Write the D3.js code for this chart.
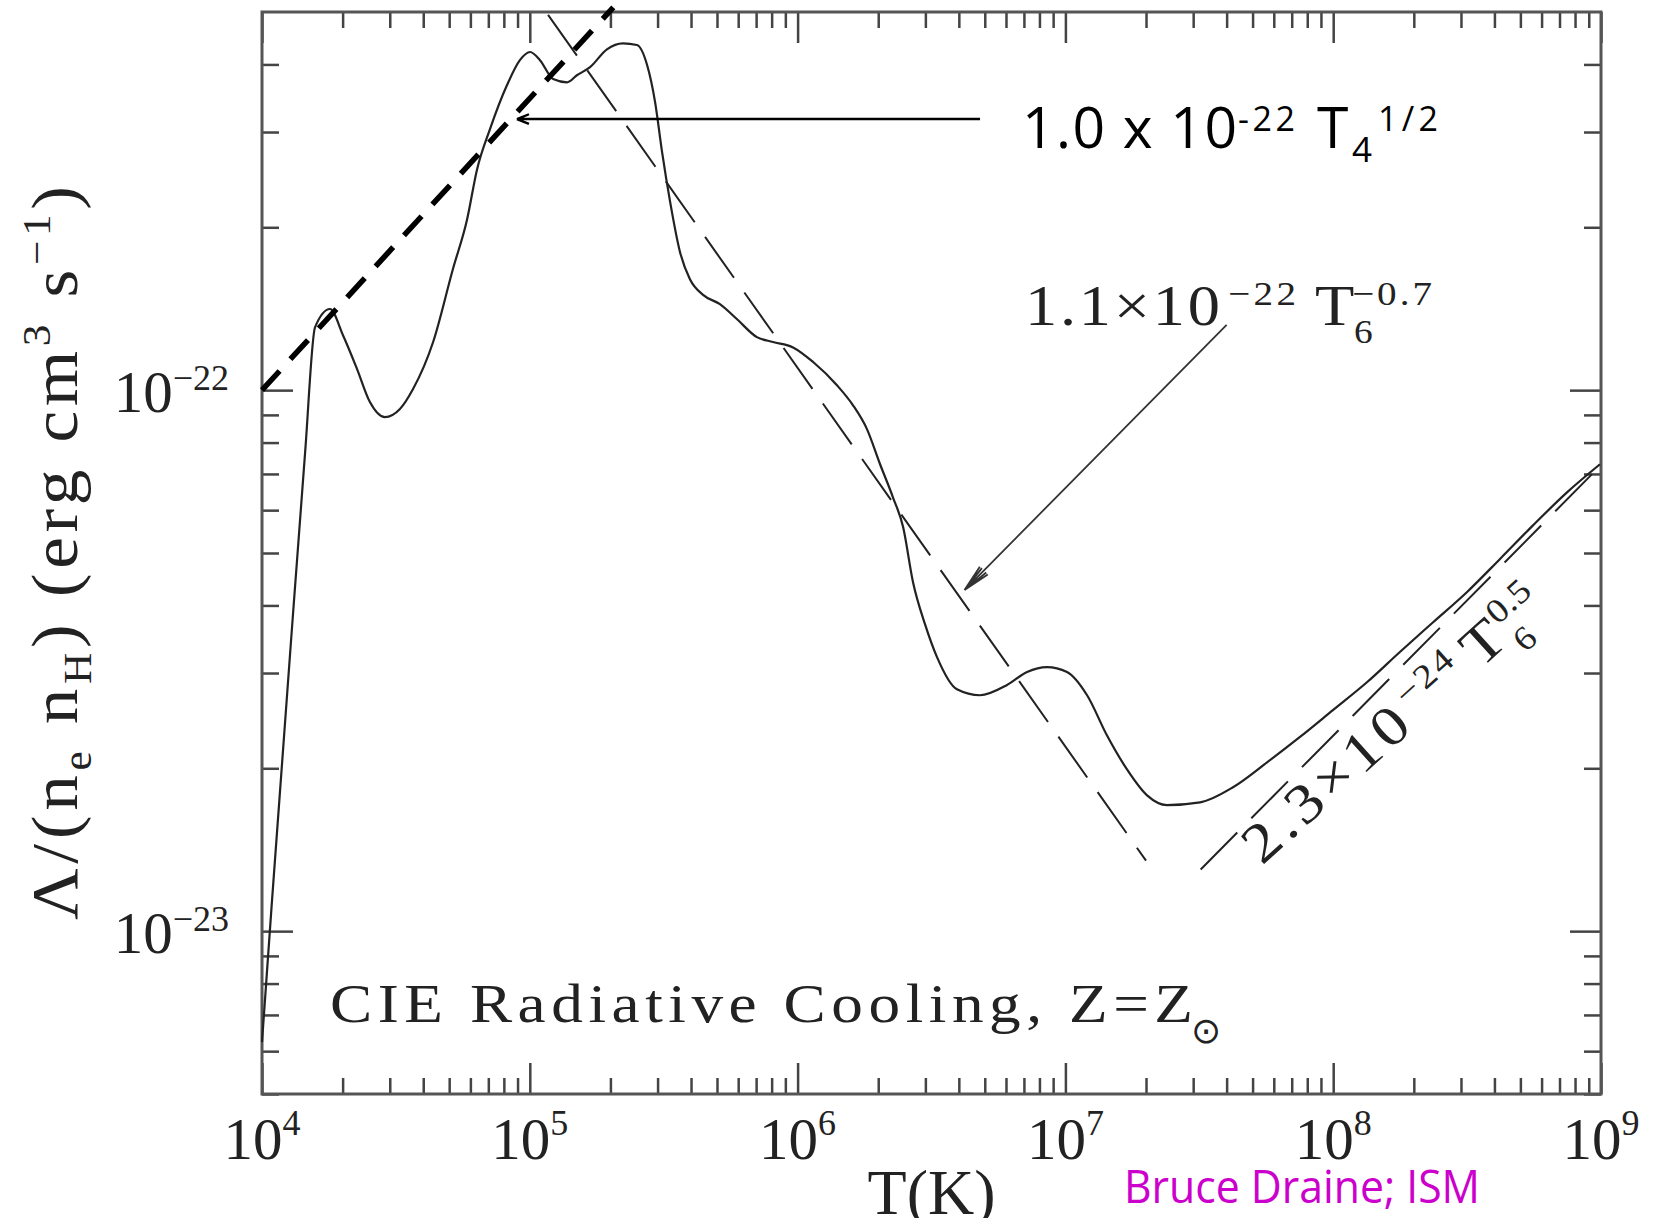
<!doctype html>
<html lang="en">
<head>
  <meta charset="utf-8">
  <title>CIE Radiative Cooling</title>
  <style>
    body { margin: 0; background: #fff; }
    svg { display: block; }
    text { white-space: pre; }
    .serif { font-family: "Liberation Serif", "Times New Roman", serif; fill: #222; }
    .sans { font-family: "Open Sans", "Noto Sans", sans-serif; fill: #000; }
    .frame { fill: none; stroke: #555; stroke-width: 3; }
    .ticks line { stroke: #444; stroke-width: 2.5; }
  </style>
</head>
<body>
  <div id="chart"></div>

  <script src="https://cdn.jsdelivr.net/npm/d3@7"></script>
  <script>
  (function(){

    // decades on the axes
    var xTickExp = [4, 5, 6, 7, 8, 9];
    var yTickExp = [-23, -22];
    var minorMant = [2, 3, 4, 5, 6, 7, 8, 9];

    // cooling curve (log10 T, log10 Lambda)
    var logT = [4.000, 4.037, 4.108, 4.161, 4.198, 4.254, 4.302, 4.355, 4.403, 4.459,
                4.515, 4.564, 4.639, 4.713, 4.766, 4.803, 4.851, 4.915, 4.963, 5.001,
                5.038, 5.087, 5.139, 5.176, 5.225, 5.288, 5.348, 5.400, 5.438, 5.468,
                5.494, 5.524, 5.561, 5.598, 5.647, 5.710, 5.774, 5.848, 5.908, 5.983,
                6.058, 6.147, 6.207, 6.259, 6.308, 6.356, 6.394, 6.431, 6.476, 6.521,
                6.595, 6.681, 6.782, 6.857, 6.931, 7.006, 7.081, 7.155, 7.230, 7.305,
                7.379, 7.503, 7.626, 7.753, 7.876, 8.000, 8.126, 8.249, 8.373, 8.500,
                8.623, 8.746, 8.873, 8.996];
    var logLambda = [-23.205, -22.946, -22.466, -22.115, -21.884, -21.850, -21.898, -21.961, -22.022, -22.050,
                     -22.035, -21.998, -21.911, -21.776, -21.684, -21.592, -21.518, -21.436, -21.390, -21.375,
                     -21.390, -21.425, -21.431, -21.418, -21.403, -21.370, -21.359, -21.362, -21.399, -21.468,
                     -21.560, -21.652, -21.745, -21.795, -21.824, -21.841, -21.869, -21.902, -21.911, -21.921,
                     -21.948, -21.991, -22.028, -22.072, -22.137, -22.198, -22.253, -22.355, -22.433, -22.494,
                     -22.553, -22.564, -22.545, -22.521, -22.512, -22.521, -22.564, -22.638, -22.701, -22.749,
                     -22.767, -22.762, -22.734, -22.688, -22.641, -22.591, -22.540, -22.484, -22.429, -22.373,
                     -22.312, -22.250, -22.189, -22.137];

    // power-law guide lines (end points)
    var warmFitT = [1.0e4, 2.05e5], warmFitL = [1.0e-22, 5.1e-22];
    var midFitT = [1.17e5, 2.0e7], midFitL = [4.94e-22, 1.35e-23];
    var hotFitT = [3.2e7, 1.0e9], hotFitL = [1.30e-23, 7.27e-23];

    // arrows: [T, Lambda] of tail and tip
    var arrowWarm = [[4.8e6, 3.17e-22], [8.95e4, 3.17e-22]];
    var arrowMid = [[4.0e7, 1.32e-22], [4.2e6, 4.27e-23]];

    var width = 1670, height = 1218;
    var left = 262, right = 1601, top = 12, bottom = 1094;

    var x = d3.scaleLog().domain([1e4, 1e9]).range([left, right]);
    var y = d3.scaleLog().domain([5e-24, 5e-22]).range([bottom, top]);

    var svg = d3.select('#chart')
        .append('svg')
        .attr('width', width)
        .attr('height', height);

    // tick marks on all four sides, pointing inward
    var majorT = xTickExp.map(function(e) { return Math.pow(10, e); });
    var minorT = [];
    xTickExp.slice(0, -1).forEach(function(e) {
      minorMant.forEach(function(k) { minorT.push(k * Math.pow(10, e)); });
    });
    var majorL = yTickExp.map(function(e) { return Math.pow(10, e); });
    var minorL = [];
    [-24, -23, -22].forEach(function(e) {
      minorMant.forEach(function(k) {
        var v = k * Math.pow(10, e);
        if (v >= 5e-24 && v <= 5e-22) minorL.push(v);
      });
    });

    function ticks(axis, vals, size, tr) {
      svg.append('g').attr('class', 'ticks').attr('transform', tr)
        .call(axis.tickValues(vals).tickSize(size).tickFormat(''))
        .call(function(g) { g.select('.domain').remove(); });
    }
    ticks(d3.axisBottom(x), majorT, -31, 'translate(0,' + bottom + ')');
    ticks(d3.axisBottom(x), minorT, -16, 'translate(0,' + bottom + ')');
    ticks(d3.axisTop(x), majorT, -31, 'translate(0,' + top + ')');
    ticks(d3.axisTop(x), minorT, -16, 'translate(0,' + top + ')');
    ticks(d3.axisLeft(y), majorL, -31, 'translate(' + left + ',0)');
    ticks(d3.axisLeft(y), minorL, -17, 'translate(' + left + ',0)');
    ticks(d3.axisRight(y), majorL, -31, 'translate(' + right + ',0)');
    ticks(d3.axisRight(y), minorL, -17, 'translate(' + right + ',0)');

    svg.append('rect').attr('class', 'frame')
      .attr('x', left).attr('y', top)
      .attr('width', right - left).attr('height', bottom - top);

    // tick labels
    xTickExp.forEach(function(e) {
      var t = svg.append('text').attr('class', 'serif')
        .attr('x', x(Math.pow(10, e))).attr('y', 1159)
        .attr('text-anchor', 'middle');
      t.append('tspan').attr('font-size', 59).text('10');
      t.append('tspan').attr('font-size', 36).attr('dy', -24).text(e);
    });
    yTickExp.forEach(function(e) {
      var t = svg.append('text').attr('class', 'serif')
        .attr('x', 229).attr('y', y(Math.pow(10, e)) + 22)
        .attr('text-anchor', 'end');
      t.append('tspan').attr('font-size', 59).text('10');
      t.append('tspan').attr('font-size', 36).attr('dy', -22).text('\u2212' + Math.abs(e));
    });

    // axis titles
    svg.append('text').attr('class', 'serif')
      .attr('x', (left + right) / 2).attr('y', 1214)
      .attr('text-anchor', 'middle').attr('font-size', 64)
      .text('T(K)');

    var yt = svg.append('text').attr('class', 'serif')
      .attr('transform', 'translate(77,920) rotate(-90) scale(1.08,1)')
      .attr('font-size', 66)
      .attr('textLength', 734 / 1.08).attr('lengthAdjust', 'spacing');
    yt.append('tspan').text('\u039B/(n');
    yt.append('tspan').attr('dy', 14).attr('font-size', 40).text('e');
    yt.append('tspan').attr('dy', -14).text(' n');
    yt.append('tspan').attr('dy', 14).attr('font-size', 40).text('H');
    yt.append('tspan').attr('dy', -14).text(') (erg cm');
    yt.append('tspan').attr('dy', -27).attr('font-size', 40).text('3');
    yt.append('tspan').attr('dy', 27).text(' s');
    yt.append('tspan').attr('dy', -27).attr('font-size', 40).text('\u22121');
    yt.append('tspan').attr('dy', 27).text(')');

    // curves
    var line = d3.line()
      .x(function(d) { return x(d[0]); })
      .y(function(d) { return y(d[1]); });

    var cooling = logT.map(function(t, i) { return [Math.pow(10, t), Math.pow(10, logLambda[i])]; });
    svg.append('path')
      .attr('d', line.curve(d3.curveMonotoneX)(cooling))
      .attr('fill', 'none').attr('stroke', '#222').attr('stroke-width', 2.2);

    line.curve(d3.curveLinear);
    function guide(ts, ls, dash, w, col) {
      svg.append('path')
        .attr('d', line(ts.map(function(t, i) { return [t, ls[i]]; })))
        .attr('fill', 'none').attr('stroke', col).attr('stroke-width', w)
        .attr('stroke-dasharray', dash);
    }
    guide(midFitT, midFitL, '50,18', 2, '#222');
    guide(hotFitT, hotFitL, '52,20', 2, '#222');
    guide(warmFitT, warmFitL, '26,16', 5.5, '#000');

    // arrows
    function arrow(a, len, spread, w, col, extra) {
      var x0 = x(a[0][0]), y0 = y(a[0][1]), x1 = x(a[1][0]), y1 = y(a[1][1]);
      var ang = Math.atan2(y0 - y1, x0 - x1);
      var d = 'M' + x0 + ',' + y0 + 'L' + x1 + ',' + y1;
      var sp = [spread, -spread].concat(extra ? [spread * 0.55, -spread * 0.55] : []);
      sp.forEach(function(s) {
        d += 'M' + x1 + ',' + y1 + 'L' + (x1 + len * Math.cos(ang + s)) + ',' + (y1 + len * Math.sin(ang + s));
      });
      svg.append('path').attr('d', d)
        .attr('fill', 'none').attr('stroke', col).attr('stroke-width', w);
    }
    arrow(arrowWarm, 13, 0.38, 2.4, '#000', false);
    arrow(arrowMid, 28, 0.2, 1.8, '#333', true);

    // annotations: each piece is stretched a little to mimic the wide TeX glyphs
    function piece(g, cls, txt, px, py, size, len, sx) {
      sx = sx || 1;
      var t = g.append('text').attr('class', cls)
        .attr('transform', 'translate(' + px + ',' + py + ') scale(' + sx + ',1)')
        .attr('font-size', size).text(txt);
      if (len) t.attr('textLength', len / sx).attr('lengthAdjust', 'spacing');
      return t;
    }

    piece(svg, 'sans', '1.0 x 10', 1022, 148, 57, 215);
    piece(svg, 'sans', '-22', 1238, 131, 34, 57);
    piece(svg, 'sans', 'T', 1317, 148, 57, 33);
    piece(svg, 'sans', '4', 1352, 162, 35);
    piece(svg, 'sans', '1/2', 1378, 131, 34, 60);

    piece(svg, 'serif', '1.1\u00D710', 1025, 325, 56, 195, 1.15);
    piece(svg, 'serif', '\u221222', 1228, 305, 34, 68, 1.15);
    piece(svg, 'serif', 'T', 1315, 325, 56, 0, 1.15);
    piece(svg, 'serif', '6', 1354, 343, 34, 0, 1.1);
    piece(svg, 'serif', '\u22120.7', 1352, 305, 34, 80, 1.15);

    var rot = svg.append('g').attr('transform', 'translate(1262,866) rotate(-42)');
    piece(rot, 'serif', '2.3\u00D710', 0, 0, 56, 204, 1.15);
    piece(rot, 'serif', '\u221224', 214, -21, 34, 66, 1.15);
    piece(rot, 'serif', 'T', 294, 0, 56, 0, 1.15);
    piece(rot, 'serif', '0.5', 336, -21, 34, 48, 1.12);
    piece(rot, 'serif', '6', 338, 18, 34, 0, 1.1);

    piece(svg, 'serif', 'CIE Radiative Cooling, Z=Z', 330, 1022, 55, 863, 1.15);
    svg.append('text').attr('x', 1191).attr('y', 1043)
      .attr('font-family', '"DejaVu Sans", sans-serif').attr('font-size', 36)
      .attr('fill', '#222').text('\u2299');

    svg.append('text').attr('x', 1124).attr('y', 1203)
      .attr('font-family', '"Open Sans", "Noto Sans", sans-serif')
      .attr('font-size', 46).attr('fill', '#cc00cc')
      .attr('textLength', 356).attr('lengthAdjust', 'spacingAndGlyphs')
      .text('Bruce Draine; ISM');

  })();
  </script>
</body>
</html>
